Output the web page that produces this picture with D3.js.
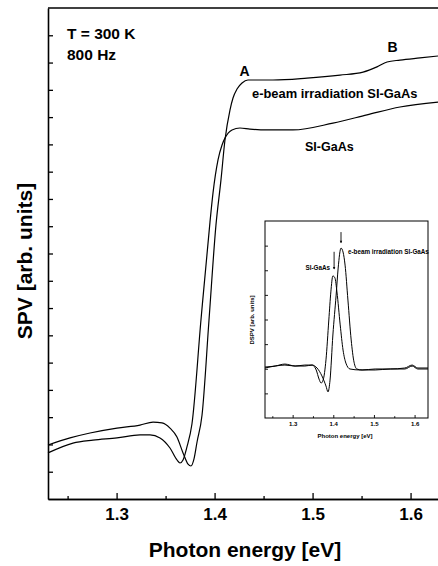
<!DOCTYPE html>
<html>
<head>
<meta charset="utf-8">
<script src="https://cdn.jsdelivr.net/npm/d3@7"></script>
<style>
  body { margin: 0; background: #fff; }
  svg { display: block; }
  text { font-family: "Liberation Sans", Arial, sans-serif; font-weight: bold; fill: #000; }
</style>
</head>
<body>
<svg id="chart" width="438" height="566"></svg>
<script>
// SPV spectra (main panel), photon energy in eV, signal in arb. units
const energyIrr = [1.230,1.2525,1.2729,1.3004,1.3239,1.3372,1.3463,1.3545,1.3616,1.3678,1.3729,1.3759,1.3790,1.3821,1.3872,1.3943,1.4014,1.4065,1.4106,1.4157,1.4188,1.4229,1.4280,1.4341,1.4596,1.4943,1.5280,1.5515,1.5657,1.5760,1.5892,1.6096,1.628];
const spvIrr    = [1.98,2.24,2.42,2.60,2.71,2.82,2.79,2.60,2.27,1.69,1.28,1.21,1.47,2.09,3.08,6.56,10.04,11.69,13.16,14.26,14.70,15.03,15.25,15.36,15.36,15.43,15.54,15.65,15.84,16.02,16.09,16.17,16.24];

const energySi = [1.230,1.2555,1.2759,1.3004,1.3239,1.3341,1.3443,1.3545,1.3616,1.3647,1.3678,1.3718,1.3769,1.3861,1.3953,1.3984,1.4035,1.4076,1.4106,1.4178,1.4259,1.4361,1.4535,1.4800,1.5208,1.5555,1.5892,1.628];
const spvSi    = [1.69,2.05,2.16,2.24,2.35,2.35,2.24,1.87,1.43,1.32,1.43,1.91,2.75,6.56,10.15,11.22,12.43,12.98,13.23,13.53,13.60,13.56,13.53,13.53,13.78,14.08,14.37,14.55];

// Derivative spectra (inset)
const dEnergyIrr = [1.232,1.257,1.281,1.306,1.330,1.348,1.360,1.372,1.382,1.387,1.392,1.399,1.407,1.412,1.419,1.424,1.429,1.436,1.444,1.451,1.458,1.471,1.503,1.540,1.576,1.594,1.608,1.633];
const dspvIrr    = [2.07,2.11,2.19,2.11,2.15,2.15,2.03,1.71,1.30,1.06,1.54,3.37,4.99,6.09,6.90,6.74,6.21,4.79,3.17,2.27,1.99,1.95,1.99,1.99,2.03,2.15,2.03,2.03];

const dEnergySi = [1.232,1.257,1.281,1.306,1.330,1.348,1.358,1.365,1.370,1.375,1.382,1.389,1.394,1.399,1.404,1.409,1.417,1.424,1.431,1.441,1.466,1.503,1.540,1.576,1.594,1.608,1.633];
const dspvSi    = [2.03,2.11,2.15,2.11,2.11,2.15,1.95,1.58,1.42,1.54,2.36,3.98,5.12,5.77,5.69,5.12,3.78,2.76,2.23,1.99,1.95,1.95,1.99,1.99,2.11,1.99,1.99];

// Axis ticks
const xMajorTicks = [1.3, 1.4, 1.5, 1.6];
const xMinorTicks = [1.25, 1.35, 1.45, 1.55];
const yTicks = d3.range(1, 18);
const insetYTicks = d3.range(1, 8);

// Peak markers in the inset: [energy, top, bottom]
const peakMarks = [[1.402, 6.75, 6.05], [1.419, 7.55, 7.12]];

const svg = d3.select("#chart");

// ---------- main panel ----------
const x = d3.scaleLinear().domain([1.23, 1.628]).range([48, 438]);
const y = d3.scaleLinear().domain([0, 18]).range([499, 8]);

const axisStyle = g => {
  g.selectAll("path.domain").attr("stroke", "#000").attr("stroke-width", 1.6);
  g.selectAll(".tick line").attr("stroke", "#000").attr("stroke-width", 1.3);
};

svg.append("g")
  .attr("transform", `translate(0,${y(0)})`)
  .call(d3.axisBottom(x).tickValues(xMinorTicks).tickSize(-3).tickSizeOuter(0).tickFormat(""))
  .call(axisStyle);

svg.append("g")
  .attr("transform", `translate(0,${y(0)})`)
  .call(d3.axisBottom(x).tickValues(xMajorTicks).tickSize(-6).tickSizeOuter(0)
        .tickPadding(9).tickFormat(d3.format(".1f")))
  .call(axisStyle)
  .call(g => g.selectAll("text").attr("font-size", 17).attr("font-family", "Liberation Sans, Arial, sans-serif")
        .attr("font-weight", "bold").attr("fill", "#000"));

svg.append("g")
  .attr("transform", `translate(${x(1.23)},0)`)
  .call(d3.axisLeft(y).tickValues(yTicks).tickSize(-5).tickSizeOuter(0).tickFormat(""))
  .call(axisStyle);

// top frame line
svg.append("line")
  .attr("x1", x(1.23)).attr("x2", x(1.628))
  .attr("y1", y(18)).attr("y2", y(18))
  .attr("stroke", "#000").attr("stroke-width", 1.4);

const mainLine = d3.line().x(d => x(d[0])).y(d => y(d[1])).curve(d3.curveMonotoneX);

svg.append("path")
  .datum(d3.zip(energyIrr, spvIrr))
  .attr("d", mainLine).attr("fill", "none").attr("stroke", "#000").attr("stroke-width", 1.2);

svg.append("path")
  .datum(d3.zip(energySi, spvSi))
  .attr("d", mainLine).attr("fill", "none").attr("stroke", "#000").attr("stroke-width", 1.2);

// annotations
svg.append("text").attr("x", 67).attr("y", 38.5).attr("font-size", 15.5).text("T = 300 K");
svg.append("text").attr("x", 67).attr("y", 59.5).attr("font-size", 15.5).text("800 Hz");
svg.append("text").attr("x", 239.5).attr("y", 76).attr("font-size", 14).text("A");
svg.append("text").attr("x", 387.5).attr("y", 52).attr("font-size", 14).text("B");
svg.append("text").attr("x", 252).attr("y", 98).attr("font-size", 12.9).text("e-beam irradiation SI-GaAs");
svg.append("text").attr("x", 305).attr("y", 150.5).attr("font-size", 12.5).text("SI-GaAs");

// axis titles
svg.append("text")
  .attr("transform", `translate(32,${261}) rotate(-90)`)
  .attr("text-anchor", "middle").attr("font-size", 21).text("SPV [arb. units]");
svg.append("text")
  .attr("x", 245).attr("y", 557).attr("text-anchor", "middle").attr("font-size", 21)
  .text("Photon energy [eV]");

// ---------- inset ----------
const xi = d3.scaleLinear().domain([1.232, 1.633]).range([265, 428]);
const yi = d3.scaleLinear().domain([0, 8]).range([418, 221]);

const inset = svg.append("g");

inset.append("rect")
  .attr("x", xi(1.232)).attr("y", yi(8))
  .attr("width", xi(1.633) - xi(1.232)).attr("height", yi(0) - yi(8))
  .attr("fill", "#fff").attr("stroke", "#000").attr("stroke-width", 1);

const insetAxisStyle = g => {
  g.selectAll("path.domain").remove();
  g.selectAll(".tick line").attr("stroke", "#000").attr("stroke-width", 0.9);
};

inset.append("g")
  .attr("transform", `translate(0,${yi(0)})`)
  .call(d3.axisBottom(xi).tickValues(xMinorTicks).tickSize(-1.8).tickFormat(""))
  .call(insetAxisStyle);

inset.append("g")
  .attr("transform", `translate(0,${yi(0)})`)
  .call(d3.axisBottom(xi).tickValues(xMajorTicks).tickSize(-3).tickPadding(4).tickFormat(d3.format(".1f")))
  .call(insetAxisStyle)
  .call(g => g.selectAll("text").attr("font-size", 6).attr("font-family", "Liberation Sans, Arial, sans-serif")
        .attr("font-weight", "bold").attr("fill", "#000"));

inset.append("g")
  .attr("transform", `translate(${xi(1.232)},0)`)
  .call(d3.axisLeft(yi).tickValues(insetYTicks).tickSize(-3).tickFormat(""))
  .call(insetAxisStyle);

const insetLine = d3.line().x(d => xi(d[0])).y(d => yi(d[1])).curve(d3.curveMonotoneX);

inset.append("path")
  .datum(d3.zip(dEnergyIrr, dspvIrr))
  .attr("d", insetLine).attr("fill", "none").attr("stroke", "#000").attr("stroke-width", 1);

inset.append("path")
  .datum(d3.zip(dEnergySi, dspvSi))
  .attr("d", insetLine).attr("fill", "none").attr("stroke", "#000").attr("stroke-width", 1);

// peak position markers
peakMarks.forEach(([e, top, bottom]) => {
  inset.append("line")
    .attr("x1", xi(e)).attr("x2", xi(e)).attr("y1", yi(top)).attr("y2", yi(bottom))
    .attr("stroke", "#000").attr("stroke-width", 0.9);
  inset.append("path")
    .attr("d", `M${xi(e) - 1.2},${yi(bottom) - 2}L${xi(e) + 1.2},${yi(bottom) - 2}L${xi(e)},${yi(bottom) + 0.5}Z`)
    .attr("fill", "#000");
});

inset.append("text").attr("x", 330).attr("y", 270).attr("text-anchor", "end")
  .attr("font-size", 6.3).text("SI-GaAs");
inset.append("text").attr("x", 348).attr("y", 254)
  .attr("font-size", 6.3).text("e-beam irradiation SI-GaAs");

inset.append("text")
  .attr("transform", `translate(254,320) rotate(-90)`)
  .attr("text-anchor", "middle").attr("font-size", 6).text("DSPV [arb. units]");
inset.append("text")
  .attr("x", 345).attr("y", 437.5).attr("text-anchor", "middle").attr("font-size", 6)
  .text("Photon energy [eV]");
</script>
</body>
</html>
